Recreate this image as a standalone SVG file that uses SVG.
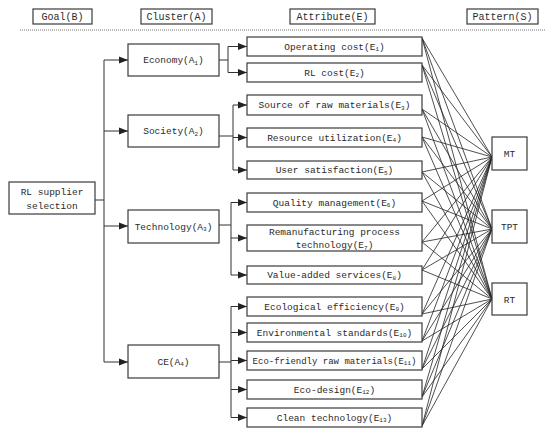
<svg xmlns="http://www.w3.org/2000/svg" width="550" height="434" viewBox="0 0 550 434">
<defs>
<style>
.box{fill:#fff;stroke:#3a3a3a;stroke-width:1.2}
.t{font-family:"Liberation Mono","DejaVu Sans Mono",monospace;font-size:9.5px;fill:#2a2a2a;text-anchor:middle}
.h{font-size:10px}
.s{font-size:6px}
.ln{fill:none;stroke:#333;stroke-width:1}
.ar{fill:none;stroke:#333;stroke-width:1;marker-end:url(#arr)}
.cx{stroke:#222;stroke-width:0.8}
</style>
<marker id="arr" markerUnits="userSpaceOnUse" markerWidth="10" markerHeight="8" refX="9" refY="4" orient="auto">
<path d="M0,0.5 L9,4 L0,7.5 Z" fill="#222"/>
</marker>
</defs>
<rect width="550" height="434" fill="#fff"/>

<g id="headers">
<rect class="box" x="33" y="9" width="59" height="15"/>
<text class="t h" x="62.5" y="20">Goal(B)</text>
<rect class="box" x="141" y="9" width="71" height="15"/>
<text class="t h" x="176.5" y="20">Cluster(A)</text>
<rect class="box" x="290" y="9" width="85" height="15"/>
<text class="t h" x="332.5" y="20">Attribute(E)</text>
<rect class="box" x="467" y="9" width="71" height="15"/>
<text class="t h" x="502.5" y="20">Pattern(S)</text>
<line x1="20" y1="30" x2="546" y2="30" stroke="#777" stroke-width="1" stroke-dasharray="1,1"/>
</g>

<g id="connectors">
<polyline class="ln" points="95,200 104,200"/>
<line class="ln" x1="104" y1="60" x2="104" y2="362"/>
<line class="ar" x1="104" y1="60" x2="128" y2="60"/>
<line class="ar" x1="104" y1="131" x2="128" y2="131"/>
<line class="ar" x1="104" y1="226" x2="128" y2="226"/>
<line class="ar" x1="104" y1="362" x2="128" y2="362"/>

<line class="ln" x1="219" y1="60" x2="228" y2="60"/>
<line class="ln" x1="228" y1="46.5" x2="228" y2="72.5"/>
<line class="ar" x1="228" y1="46.5" x2="247" y2="46.5"/>
<line class="ar" x1="228" y1="72.5" x2="247" y2="72.5"/>

<line class="ln" x1="219" y1="136" x2="233" y2="136"/>
<line class="ln" x1="233" y1="105" x2="233" y2="170"/>
<line class="ar" x1="233" y1="105" x2="247" y2="105"/>
<line class="ar" x1="233" y1="137.5" x2="247" y2="137.5"/>
<line class="ar" x1="233" y1="170" x2="247" y2="170"/>

<line class="ln" x1="219" y1="225" x2="231" y2="225"/>
<line class="ln" x1="231" y1="202.5" x2="231" y2="275"/>
<line class="ar" x1="231" y1="202.5" x2="247" y2="202.5"/>
<line class="ar" x1="231" y1="238" x2="247" y2="238"/>
<line class="ar" x1="231" y1="275" x2="247" y2="275"/>

<line class="ln" x1="219" y1="362" x2="231" y2="362"/>
<line class="ln" x1="231" y1="306.5" x2="231" y2="417.5"/>
<line class="ar" x1="231" y1="306.5" x2="247" y2="306.5"/>
<line class="ar" x1="231" y1="332.5" x2="247" y2="332.5"/>
<line class="ar" x1="231" y1="360.5" x2="247" y2="360.5"/>
<line class="ar" x1="231" y1="389.5" x2="247" y2="389.5"/>
<line class="ar" x1="231" y1="417.5" x2="247" y2="417.5"/>

<g class="cx">
<path d="M422,38 L492,157 M422,38 L492,229 M422,38 L492,299"/>
<path d="M422,65 L492,157 M422,65 L492,229 M422,65 L492,299"/>
<path d="M422,109 L492,157 M422,109 L492,229 M422,109 L492,299"/>
<path d="M422,137 L492,157 M422,137 L492,229 M422,137 L492,299"/>
<path d="M422,172 L492,157 M422,172 L492,229 M422,172 L492,299"/>
<path d="M422,201 L492,157 M422,201 L492,229 M422,201 L492,299"/>
<path d="M422,242 L492,157 M422,242 L492,229 M422,242 L492,299"/>
<path d="M422,270 L492,157 M422,270 L492,229 M422,270 L492,299"/>
<path d="M422,314 L492,157 M422,314 L492,229 M422,314 L492,299"/>
<path d="M422,341 L492,157 M422,341 L492,229 M422,341 L492,299"/>
<path d="M422,369 L492,157 M422,369 L492,229 M422,369 L492,299"/>
<path d="M422,397 L492,157 M422,397 L492,229 M422,397 L492,299"/>
<path d="M422,426 L492,157 M422,426 L492,229 M422,426 L492,299"/>
</g>
</g>

<g id="goal">
<rect class="box" x="9" y="182" width="86" height="32"/>
<text class="t" x="52" y="195">RL supplier</text>
<text class="t" x="52" y="209">selection</text>
</g>

<g id="A1"><rect class="box" x="128" y="44" width="91" height="32"/><text class="t" x="173.5" y="63">Economy(A<tspan class="s" dy="1.5">1</tspan><tspan dy="-1.5">)</tspan></text></g>
<g id="A2"><rect class="box" x="128" y="115" width="91" height="32"/><text class="t" x="173.5" y="134">Society(A<tspan class="s" dy="1.5">2</tspan><tspan dy="-1.5">)</tspan></text></g>
<g id="A3"><rect class="box" x="128" y="210" width="91" height="33"/><text class="t" x="173.5" y="229.5">Technology(A<tspan class="s" dy="1.5">3</tspan><tspan dy="-1.5">)</tspan></text></g>
<g id="A4"><rect class="box" x="128" y="345" width="91" height="33"/><text class="t" x="173.5" y="364.5">CE(A<tspan class="s" dy="1.5">4</tspan><tspan dy="-1.5">)</tspan></text></g>

<g id="E1"><rect class="box" x="247" y="37" width="175" height="19"/><text class="t" x="334.5" y="49.5">Operating cost(E<tspan class="s" dy="1.5">1</tspan><tspan dy="-1.5">)</tspan></text></g>
<g id="E2"><rect class="box" x="247" y="63" width="175" height="19"/><text class="t" x="334.5" y="75.5">RL cost(E<tspan class="s" dy="1.5">2</tspan><tspan dy="-1.5">)</tspan></text></g>
<g id="E3"><rect class="box" x="247" y="95" width="175" height="20"/><text class="t" x="334.5" y="108">Source of raw materials(E<tspan class="s" dy="1.5">3</tspan><tspan dy="-1.5">)</tspan></text></g>
<g id="E4"><rect class="box" x="247" y="128" width="175" height="19"/><text class="t" x="334.5" y="140.5">Resource utilization(E<tspan class="s" dy="1.5">4</tspan><tspan dy="-1.5">)</tspan></text></g>
<g id="E5"><rect class="box" x="247" y="161" width="175" height="18"/><text class="t" x="334.5" y="173">User satisfaction(E<tspan class="s" dy="1.5">5</tspan><tspan dy="-1.5">)</tspan></text></g>
<g id="E6"><rect class="box" x="247" y="193" width="175" height="19"/><text class="t" x="334.5" y="205.5">Quality management(E<tspan class="s" dy="1.5">6</tspan><tspan dy="-1.5">)</tspan></text></g>
<g id="E7"><rect class="box" x="247" y="225" width="175" height="26"/><text class="t" x="334.5" y="234.5">Remanufacturing process</text><text class="t" x="334.5" y="248">technology(E<tspan class="s" dy="1.5">7</tspan><tspan dy="-1.5">)</tspan></text></g>
<g id="E8"><rect class="box" x="247" y="266" width="175" height="18"/><text class="t" x="334.5" y="278">Value-added services(E<tspan class="s" dy="1.5">8</tspan><tspan dy="-1.5">)</tspan></text></g>
<g id="E9"><rect class="box" x="247" y="297" width="175" height="19"/><text class="t" x="334.5" y="309.5">Ecological efficiency(E<tspan class="s" dy="1.5">9</tspan><tspan dy="-1.5">)</tspan></text></g>
<g id="E10"><rect class="box" x="247" y="323" width="175" height="19"/><text class="t" x="334.5" y="335.5">Environmental standards(E<tspan class="s" dy="1.5">10</tspan><tspan dy="-1.5">)</tspan></text></g>
<g id="E11"><rect class="box" x="247" y="351" width="175" height="19"/><text class="t" x="334.5" y="363.5" style="font-size:9px">Eco-friendly raw materials(E<tspan class="s" dy="1.5">11</tspan><tspan dy="-1.5">)</tspan></text></g>
<g id="E12"><rect class="box" x="247" y="380" width="175" height="19"/><text class="t" x="334.5" y="392.5">Eco-design(E<tspan class="s" dy="1.5">12</tspan><tspan dy="-1.5">)</tspan></text></g>
<g id="E13"><rect class="box" x="247" y="408" width="175" height="19"/><text class="t" x="334.5" y="420.5">Clean technology(E<tspan class="s" dy="1.5">13</tspan><tspan dy="-1.5">)</tspan></text></g>

<g id="MT"><rect class="box" x="492" y="137" width="35" height="33"/><text class="t" x="509.5" y="157">MT</text></g>
<g id="TPT"><rect class="box" x="492" y="210" width="35" height="33"/><text class="t" x="509.5" y="230">TPT</text></g>
<g id="RT"><rect class="box" x="492" y="283" width="35" height="32"/><text class="t" x="509.5" y="302.5">RT</text></g>
</svg>
